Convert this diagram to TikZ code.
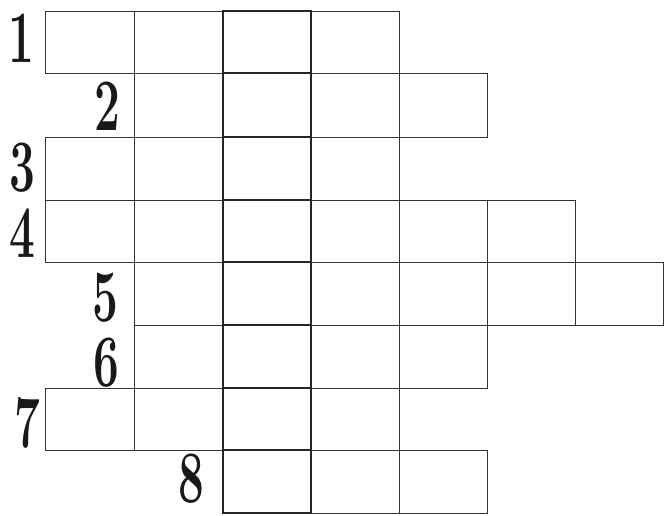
\documentclass[tikz,border=0pt]{standalone}
\usepackage{fontspec}
\tikzset{
  cell/.style={draw=black!80, line width=0.9pt},
  keycell/.style={draw=black!85, line width=2pt},
  num/.style={inner sep=0pt, font=\fontsize{74}{74}\selectfont\bfseries\addfontfeature{FakeBold=3}, text=black!90}
}
\def\xs{{45.5,134,222.5,311,399,487.5,575.5,663.5}}
\def\ys{{11,73,137,200,262,325,388,450,513}}
\begin{document}
\begin{tikzpicture}[x=1pt,y=-1pt]
\useasboundingbox (0,0) rectangle (664,515);
\fill[white] (0,0) rectangle (664,515);
% rows: row/first cell/last cell
\foreach \r/\a/\b in {1/0/3,2/1/4,3/0/3,4/0/5,5/1/6,6/1/4,7/0/3,8/2/4}{
  \foreach \c in {\a,...,\b}{
    \pgfmathsetmacro\xl{\xs[\c]}
    \pgfmathsetmacro\xr{\xs[\c+1]}
    \pgfmathsetmacro\yt{\ys[\r-1]}
    \pgfmathsetmacro\yb{\ys[\r]}
    \draw[cell] (\xl,\yt) rectangle (\xr,\yb);
  }
}
% highlighted solution column
\foreach \r in {1,...,8}{
  \pgfmathsetmacro\yt{\ys[\r-1]}
  \pgfmathsetmacro\yb{\ys[\r]}
  \draw[keycell] (222.5,\yt) rectangle (311,\yb);
}
% clue numbers
\node[num] (n1) at (21,38) {\scalebox{0.62}[1]{1}};
\node[num] (n2) at (107,106) {\scalebox{0.62}[1]{2}};
\node[num] (n3) at (22,168) {\scalebox{0.62}[1]{3}};
\node[num] (n4) at (22,233) {\scalebox{0.62}[1]{4}};
\node[num] (n5) at (105,298) {\scalebox{0.62}[1]{5}};
\node[num] (n6) at (106,363) {\scalebox{0.62}[1]{6}};
\node[num] (n7) at (27,423) {\scalebox{0.62}[1]{7}};
\node[num] (n8) at (191,479) {\scalebox{0.62}[1]{8}};
\end{tikzpicture}
\end{document}
